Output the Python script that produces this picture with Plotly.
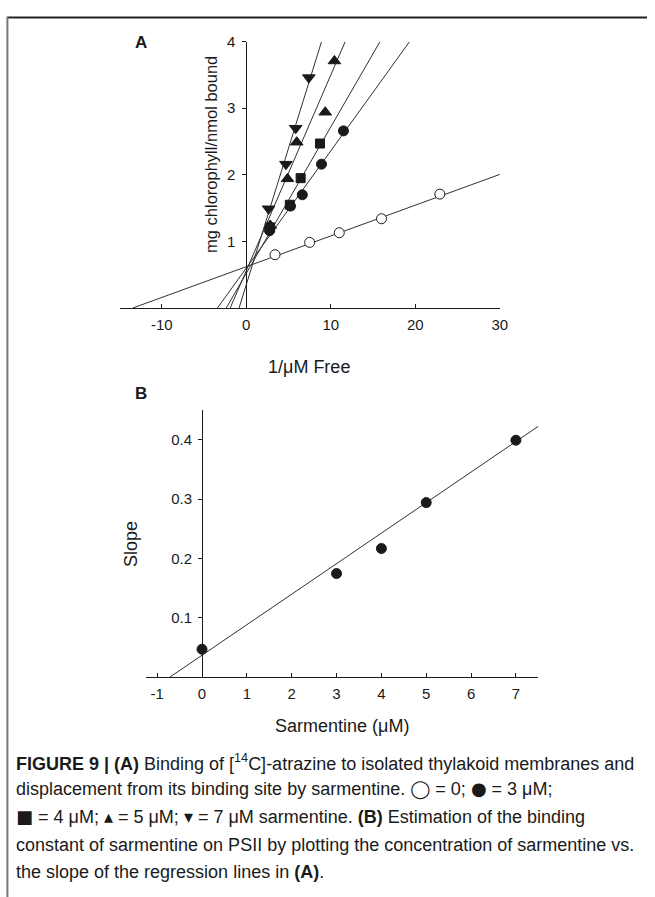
import plotly.graph_objects as go

W, H = 655, 897

# ---------------- Panel A data ----------------
x_open = [3.4, 7.5, 11.0, 16.0, 22.9]
y_open = [0.80, 0.985, 1.13, 1.34, 1.71]
x_c3 = [2.75, 5.23, 6.63, 8.9, 11.5]
y_c3 = [1.16, 1.53, 1.70, 2.16, 2.66]
x_s4 = [2.83, 5.15, 6.43, 8.72]
y_s4 = [1.21, 1.55, 1.95, 2.47]
x_t5 = [2.83, 4.88, 5.97, 9.34, 10.43]
y_t5 = [1.24, 1.94, 2.49, 2.94, 3.71]
x_t7 = [2.64, 4.69, 5.85, 7.4]
y_t7 = [1.49, 2.16, 2.70, 3.46]

# regression lines (slope, intercept)
line_slopes = [0.0462, 0.176, 0.22, 0.294, 0.41]
line_intercepts = [0.62, 0.60, 0.52, 0.56, 0.35]

# ---------------- Panel B data ----------------
x_B = [0, 3, 4, 5, 7]
y_B = [0.047, 0.1745, 0.2167, 0.294, 0.399]
B_slope = 0.0514
B_intercept = 0.037

A_xrange = [-15, 30]
A_yrange = [0, 4]
B_xrange = [-1.25, 7.5]
B_yrange = [0, 0.45]

A_xticks = [-10, 0, 10, 20, 30]
A_xlabels = ["-10", "0", "10", "20", "30"]
A_yticks = [1, 2, 3, 4]
B_xticks = [-1, 0, 1, 2, 3, 4, 5, 6, 7]
B_xlabels = ["-1", "0", "1", "2", "3", "4", "5", "6", "7"]
B_yticks = [0.1, 0.2, 0.3, 0.4]

FONT = "Liberation Sans, Arial, sans-serif"
INK = "#1a1a1a"


def px(x):
    return x / W


def py(y):
    return 1 - y / H


A_xdom = [px(121), px(506)]
A_ydom = [py(302), py(33)]
B_xdom = [px(147.75), px(545)]
B_ydom = [py(675), py(405)]


def zero_pos(dom, rng):
    return dom[0] + (0 - rng[0]) / (rng[1] - rng[0]) * (dom[1] - dom[0])


fig = go.Figure()

# Panel A regression lines
for m, b in zip(line_slopes, line_intercepts):
    x0 = -b / m
    x1 = min((A_yrange[1] - b) / m, A_xrange[1])
    fig.add_trace(go.Scatter(x=[x0, x1], y=[b + m * x0, b + m * x1], mode="lines",
                             line=dict(color="#303030", width=1), xaxis="x", yaxis="y",
                             showlegend=False, hoverinfo="skip"))

mk_line = dict(color=INK, width=1)
fig.add_trace(go.Scatter(x=x_open, y=y_open, mode="markers", xaxis="x", yaxis="y",
                         marker=dict(symbol="circle", size=10, color="white", line=mk_line),
                         showlegend=False, cliponaxis=False))
fig.add_trace(go.Scatter(x=x_c3, y=y_c3, mode="markers", xaxis="x", yaxis="y",
                         marker=dict(symbol="circle", size=10, color=INK, line=mk_line),
                         showlegend=False, cliponaxis=False))
fig.add_trace(go.Scatter(x=x_s4, y=y_s4, mode="markers", xaxis="x", yaxis="y",
                         marker=dict(symbol="square", size=9, color=INK, line=mk_line),
                         showlegend=False, cliponaxis=False))
fig.add_trace(go.Scatter(x=x_t5, y=y_t5, mode="markers", xaxis="x", yaxis="y",
                         marker=dict(symbol="triangle-up", size=11, color=INK, line=mk_line),
                         showlegend=False, cliponaxis=False))
fig.add_trace(go.Scatter(x=x_t7, y=y_t7, mode="markers", xaxis="x", yaxis="y",
                         marker=dict(symbol="triangle-down", size=11, color=INK, line=mk_line),
                         showlegend=False, cliponaxis=False))

# Panel B
bx0 = -B_intercept / B_slope
bx1 = B_xrange[1]
fig.add_trace(go.Scatter(x=[bx0, bx1], y=[B_intercept + B_slope * bx0, B_intercept + B_slope * bx1],
                         mode="lines", line=dict(color="#303030", width=1), xaxis="x2", yaxis="y2",
                         showlegend=False, hoverinfo="skip", cliponaxis=False))
fig.add_trace(go.Scatter(x=x_B, y=y_B, mode="markers", xaxis="x2", yaxis="y2",
                         marker=dict(symbol="circle", size=10, color=INK, line=mk_line),
                         showlegend=False, cliponaxis=False))

axis_common = dict(showgrid=False, zeroline=False, showline=True, linecolor=INK, linewidth=1,
                   tickcolor=INK, tickwidth=1, tickfont=dict(family=FONT, size=15, color=INK))

fig.update_layout(
    width=W, height=H, margin=dict(l=0, r=0, t=0, b=0),
    paper_bgcolor="white", plot_bgcolor="rgba(0,0,0,0)",
    xaxis=dict(domain=A_xdom, range=A_xrange, tickvals=A_xticks, ticktext=A_xlabels,
               ticks="inside", ticklen=4, anchor="y", ticklabelstandoff=3, **axis_common),
    yaxis=dict(domain=A_ydom, range=A_yrange, tickvals=A_yticks, ticks="outside", ticklen=4,
               anchor="free", position=zero_pos(A_xdom, A_xrange), ticklabelstandoff=4,
               **axis_common),
    xaxis2=dict(domain=B_xdom, range=B_xrange, tickvals=B_xticks, ticktext=B_xlabels,
                ticks="inside", ticklen=4, anchor="y2", ticklabelstandoff=3, **axis_common),
    yaxis2=dict(domain=B_ydom, range=B_yrange, tickvals=B_yticks, ticks="outside", ticklen=4,
                anchor="free", position=zero_pos(B_xdom, B_xrange), ticklabelstandoff=3,
                tickformat=".1f", **axis_common),
    showlegend=False,
)

ann = []


def text(x, y, s, size, **kw):
    d = dict(x=px(x), y=py(y), xref="paper", yref="paper", text=s, showarrow=False,
             font=dict(family=FONT, size=size, color=INK), xanchor="center", yanchor="middle")
    d.update(kw)
    ann.append(d)


text(143, 34, "<b>A</b>", 17)
text(143, 388, "<b>B</b>", 17)
text(213, 147, "mg chlorophyll/nmol bound", 16.5, textangle=-90)
text(313, 362, "1/μM Free", 18)
text(132, 540, "Slope", 18, textangle=-90)
text(346, 724, "Sarmentine (μM)", 18)

SYM = '<span style="font-family:DejaVu Sans">%s</span>'
caption = [
    "<b>FIGURE 9 | (A)</b> Binding of [<sup>14</sup>C]-atrazine to isolated thylakoid membranes and",
    "displacement from its binding site by sarmentine. " + SYM % "◯" + " = 0; " + SYM % "●" + " = 3 μM;",
    SYM % "■" + " = 4 μM; " + SYM % "▴" + " = 5 μM; " + SYM % "▾" +
    " = 7 μM sarmentine. <b>(B)</b> Estimation of the binding",
    "constant of sarmentine on PSII by plotting the concentration of sarmentine vs.",
    "the slope of the regression lines in <b>(A)</b>.",
]
cap_y = [761, 788, 816, 844, 872]
for s, yy in zip(caption, cap_y):
    text(14, yy, s, 18, xanchor="left")

fig.update_layout(annotations=ann)

# figure frame
fig.add_shape(type="line", xref="paper", yref="paper", x0=px(7), x1=1, y0=py(8.5), y1=py(8.5),
              line=dict(color="#222222", width=2))
fig.add_shape(type="line", xref="paper", yref="paper", x0=px(7.5), x1=px(7.5), y0=py(8), y1=0,
              line=dict(color="#777777", width=2))

fig.write_html("out.html")
